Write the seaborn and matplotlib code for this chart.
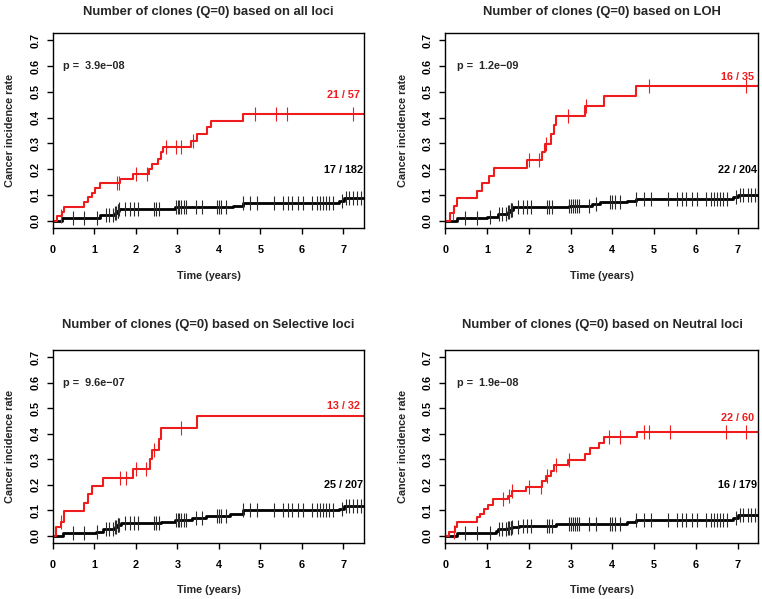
import numpy as np
import matplotlib
matplotlib.use("Agg")
import matplotlib.pyplot as plt
import seaborn as sns

# ---- data ----
titles = ["Number of clones (Q=0) based on all loci",
          "Number of clones (Q=0) based on LOH",
          "Number of clones (Q=0) based on Selective loci",
          "Number of clones (Q=0) based on Neutral loci"]
p_values = ["3.9e\u221208", "1.2e\u221209", "9.6e\u221207", "1.9e\u221208"]
red_counts = ["21 / 57", "16 / 35", "13 / 32", "22 / 60"]
black_counts = ["17 / 182", "22 / 204", "25 / 207", "16 / 179"]

# high clone count group (red): event times / cumulative incidence
red_t_all = [0.10, 0.22, 0.27, 0.76, 0.86, 0.94, 1.02, 1.14, 1.62, 1.94, 2.32, 2.38, 2.54, 2.60, 2.66, 3.32, 3.47, 3.71, 3.80, 4.57]
red_y_all = [0.017, 0.035, 0.055, 0.071, 0.091, 0.108, 0.126, 0.145, 0.162, 0.180, 0.200, 0.220, 0.240, 0.265, 0.287, 0.310, 0.336, 0.362, 0.388, 0.413]
red_c_all = [0.20, 1.55, 1.60, 2.00, 2.27, 2.72, 2.96, 3.10, 3.37, 4.87, 5.37, 5.65, 7.22]

red_t_loh = [0.10, 0.21, 0.27, 0.75, 0.87, 1.05, 1.17, 1.95, 2.32, 2.38, 2.54, 2.60, 2.66, 3.34, 3.80, 4.56]
red_y_loh = [0.030, 0.056, 0.088, 0.117, 0.145, 0.175, 0.205, 0.236, 0.266, 0.298, 0.337, 0.372, 0.406, 0.445, 0.484, 0.523]
red_c_loh = [0.18, 2.00, 2.25, 2.42, 2.93, 3.37, 4.87, 7.20]

red_t_sel = [0.09, 0.19, 0.26, 0.75, 0.85, 0.95, 1.21, 1.93, 2.33, 2.39, 2.55, 2.61, 3.47]
red_y_sel = [0.033, 0.054, 0.097, 0.130, 0.162, 0.195, 0.227, 0.262, 0.300, 0.337, 0.379, 0.422, 0.470]
red_c_sel = [0.20, 1.63, 1.77, 2.00, 2.25, 2.43, 3.09]

red_t_neu = [0.08, 0.22, 0.27, 0.75, 0.83, 0.92, 1.02, 1.14, 1.51, 1.60, 1.92, 2.32, 2.40, 2.54, 2.60, 2.94, 3.34, 3.47, 3.68, 3.80, 4.58]
red_y_neu = [0.017, 0.036, 0.054, 0.072, 0.087, 0.104, 0.119, 0.143, 0.158, 0.175, 0.192, 0.214, 0.233, 0.253, 0.276, 0.296, 0.320, 0.344, 0.363, 0.387, 0.408]
red_c_neu = [0.20, 1.37, 1.52, 1.60, 2.00, 2.28, 2.44, 2.65, 2.95, 3.93, 4.17, 4.75, 4.87, 5.37, 6.72, 7.20]

# low clone count group (black)
black_t_all = [0.22, 1.15, 1.50, 1.55, 1.60, 2.95, 4.35, 4.57, 6.90, 7.02]
black_y_all = [0.009, 0.022, 0.030, 0.037, 0.044, 0.052, 0.058, 0.068, 0.077, 0.087]

black_t_loh = [0.27, 1.00, 1.25, 1.50, 1.55, 1.62, 2.95, 3.50, 3.70, 4.35, 4.57, 6.90, 7.02]
black_y_loh = [0.010, 0.016, 0.025, 0.035, 0.043, 0.052, 0.058, 0.064, 0.071, 0.077, 0.084, 0.092, 0.100]

black_t_sel = [0.25, 1.05, 1.20, 1.50, 1.55, 1.65, 2.60, 2.95, 3.35, 3.70, 4.26, 4.57, 6.89, 7.02]
black_y_sel = [0.010, 0.017, 0.025, 0.034, 0.042, 0.050, 0.055, 0.062, 0.068, 0.078, 0.086, 0.100, 0.107, 0.117]

black_t_neu = [0.27, 1.20, 1.27, 1.50, 1.60, 1.75, 2.65, 4.35, 4.57, 6.90, 7.02]
black_y_neu = [0.010, 0.020, 0.025, 0.030, 0.035, 0.040, 0.047, 0.055, 0.062, 0.070, 0.082]

# censored follow-up times of the black group (same cohort in every panel)
black_c = [0.48, 0.76, 1.07, 1.28, 1.36, 1.46, 1.50, 1.53, 1.56, 1.58, 1.60, 1.74, 1.86, 1.95, 2.06,
           2.43, 2.48, 2.55, 2.97, 3.01, 3.05, 3.10, 3.15, 3.20, 3.45, 3.60, 3.95, 4.00, 4.05, 4.18,
           4.57, 4.75, 4.92, 5.32, 5.55, 5.66, 5.77, 5.90, 6.02, 6.25, 6.36, 6.43, 6.50, 6.57, 6.66,
           6.74, 6.97, 7.06, 7.14, 7.24, 7.33, 7.42]

panels = [
    (red_t_all, red_y_all, red_c_all, black_t_all, black_y_all),
    (red_t_loh, red_y_loh, red_c_loh, black_t_loh, black_y_loh),
    (red_t_sel, red_y_sel, red_c_sel, black_t_sel, black_y_sel),
    (red_t_neu, red_y_neu, red_c_neu, black_t_neu, black_y_neu),
]

# ---- layout ----
red_label_y = [0.486, 0.558, 0.509, 0.461]
black_label_y = [0.195, 0.195, 0.201, 0.200]
p_x = [0.25, 0.28, 0.25, 0.27]
ax_rects = [[0.0692, 0.6194, 0.4088, 0.3255],
            [0.5846, 0.6194, 0.4108, 0.3255],
            [0.0692, 0.0935, 0.4088, 0.3222],
            [0.5846, 0.0935, 0.4108, 0.3222]]
title_y = [1.11, 1.11, 1.13, 1.13]

sns.set_style("ticks")
plt.rcParams['font.family'] = ['Liberation Sans', 'DejaVu Sans']
plt.rcParams['font.weight'] = 'bold'

FS = 7.8
fig = plt.figure(figsize=(7.62, 5.99), dpi=100)


def step_xy(times, vals, end=7.6):
    x = np.r_[0.0, times, end]
    y = np.r_[0.0, vals, vals[-1]]
    return x, y


def value_at(times, vals, t):
    idx = np.searchsorted(times, t, side='right') - 1
    v = np.r_[0.0, vals]
    return v[idx + 1]


for i, (rt, ry, rc, bt, by) in enumerate(panels):
    ax = fig.add_axes(ax_rects[i])

    bx, byy = step_xy(bt, by)
    sns.lineplot(x=bx, y=byy, ax=ax, color='black', lw=2.0, drawstyle='steps-post',
                 estimator=None, sort=False)
    bcy = value_at(np.array(bt), np.array(by), np.array(black_c))
    sns.scatterplot(x=black_c, y=bcy, ax=ax, marker='|', s=110, color='#2a2a2a',
                    linewidth=0.8, zorder=3)

    rx, ryy = step_xy(rt, ry)
    sns.lineplot(x=rx, y=ryy, ax=ax, color='#ee1c1c', lw=1.5, drawstyle='steps-post',
                 estimator=None, sort=False)
    rcy = value_at(np.array(rt), np.array(ry), np.array(rc))
    sns.scatterplot(x=rc, y=rcy, ax=ax, marker='|', s=110, color='#ee1c1c',
                    linewidth=0.8, zorder=3)

    ax.set_xlim(0, 7.5)
    ax.set_ylim(-0.028, 0.728)
    ax.set_xticks(range(8))
    ax.set_yticks(np.arange(0, 0.71, 0.1))
    ax.set_yticklabels([f"{v:.1f}" for v in np.arange(0, 0.71, 0.1)], rotation=90, va='center')
    ax.tick_params(axis='both', direction='out', length=4, width=1, labelsize=FS,
                   colors='black')
    ax.tick_params(axis='x', pad=8)
    ax.tick_params(axis='y', pad=5)
    for lab in ax.get_xticklabels() + ax.get_yticklabels():
        lab.set_fontweight('bold')
    for sp in ax.spines.values():
        sp.set_visible(True)
        sp.set_linewidth(1.0)
        sp.set_color('black')

    ax.set_xlabel("Time (years)", fontsize=FS, fontweight='bold')
    ax.set_ylabel("Cancer incidence rate", fontsize=FS, fontweight='bold')
    ax.xaxis.set_label_coords(0.5, -0.22)
    ax.yaxis.set_label_coords(-0.12, 0.5)

    ax.text(0.5, title_y[i], titles[i], transform=ax.transAxes, ha='center', va='center',
            fontsize=9.4, fontweight='bold')
    ax.text(p_x[i], 0.6, "p =  " + p_values[i], ha='left', va='center', fontsize=FS,
            fontweight='bold')
    ax.text(7.0, red_label_y[i], red_counts[i], ha='center', va='center', fontsize=FS,
            fontweight='bold', color='#ee1c1c')
    ax.text(7.0, black_label_y[i], black_counts[i], ha='center', va='center', fontsize=FS,
            fontweight='bold', color='black')

plt.savefig("out.png", dpi=100)
